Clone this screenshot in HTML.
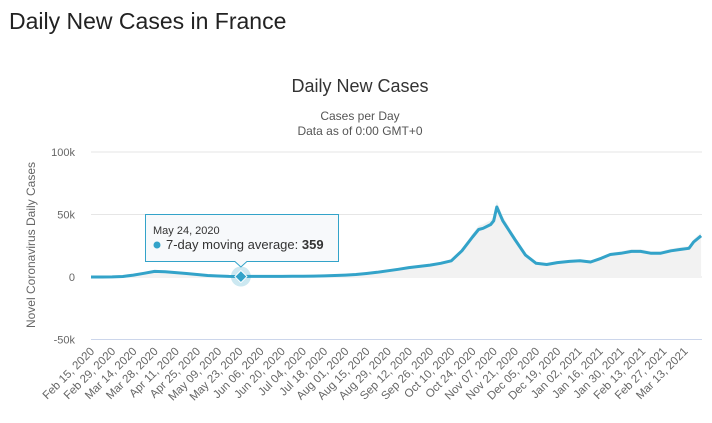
<!DOCTYPE html>
<html><head><meta charset="utf-8"><style>
body{margin:0;background:#fff;font-family:"Liberation Sans",sans-serif;}
#wrap{position:relative;width:712px;height:423px;overflow:hidden;}
h1{position:absolute;left:9px;top:8px;margin:0;font-weight:normal;font-size:23px;color:#222;}
</style></head><body>
<div id="wrap">
<h1>Daily New Cases in France</h1>
<svg id="chart" width="712" height="423" style="position:absolute;left:0;top:0"></svg>
</div>
<script>
const dayOffsets=[0,7,14,21,28,35,42,49,56,63,70,77,84,91,98,105,112,119,126,133,140,147,154,161,168,175,182,189,196,203,210,217,224,231,238,245,252,256,259,264,266,268,272,280,287,294,301,308,316,323,330,337,343,350,357,363,370,376,383,389,395,398,403];
const maValues=[0,0,100,400,1500,3000,4500,4200,3500,2800,2000,1200,800,500,400,450,450,450,500,550,600,700,900,1200,1500,2000,2800,3800,5000,6200,7500,8500,9500,11000,13000,21000,32000,38000,39000,42000,45000,56000,45000,30000,17500,11000,10000,11500,12500,13000,12000,15000,18000,19000,20500,20500,19000,19000,21000,22000,23000,28000,33000,31000];
const yTicks=[100000,50000,0,-50000];
const yTickLabels=["100k","50k","0","-50k"];
const xTickLabels=["Feb 15, 2020","Feb 29, 2020","Mar 14, 2020","Mar 28, 2020","Apr 11, 2020","Apr 25, 2020","May 09, 2020","May 23, 2020","Jun 06, 2020","Jun 20, 2020","Jul 04, 2020","Jul 18, 2020","Aug 01, 2020","Aug 15, 2020","Aug 29, 2020","Sep 12, 2020","Sep 26, 2020","Oct 10, 2020","Oct 24, 2020","Nov 07, 2020","Nov 21, 2020","Dec 05, 2020","Dec 19, 2020","Jan 02, 2021","Jan 16, 2021","Jan 30, 2021","Feb 13, 2021","Feb 27, 2021","Mar 13, 2021"];
const tooltipDay=99, tooltipValue=359;

const NS="http://www.w3.org/2000/svg";
const svg=document.getElementById('chart');
const X0=91,PXD=1.514,Y0=277,PXV=62.5/50000;
const xs=d=>X0+d*PXD, ys=v=>Y0-v*PXV;
function mk(t,a,p){const e=document.createElementNS(NS,t);for(const k in a)e.setAttribute(k,a[k]);(p||svg).appendChild(e);return e;}

let t=mk('text',{x:360,y:92,'text-anchor':'middle','font-size':18,fill:'#333'});t.textContent='Daily New Cases';


t=mk('text',{x:360,y:120,'text-anchor':'middle','font-size':12,fill:'#555'});t.textContent='Cases per Day';


t=mk('text',{x:360,y:135,'text-anchor':'middle','font-size':12,fill:'#555'});t.textContent='Data as of 0:00 GMT+0';


t=mk('text',{x:0,y:0,'text-anchor':'middle','font-size':12,fill:'#666',transform:'translate(35,245) rotate(-90)'});t.textContent='Novel Coronavirus Daily Cases';



yTicks.forEach((v,i)=>{
  const g=mk('line',{x1:X0,x2:702,y1:ys(v),y2:ys(v),stroke:i==yTicks.length-1?'#ccd6eb':'#e6e6e6','stroke-width':1});
  
  
  const l=mk('text',{x:75,y:ys(v)+4,'text-anchor':'end','font-size':11,fill:'#666'});l.textContent=yTickLabels[i];
  
  
});
xTickLabels.forEach((s,i)=>{
  const x=xs(i*14);
  const l=mk('text',{x:0,y:0,'text-anchor':'end','font-size':11.5,fill:'#666',transform:`translate(${x+4},${352}) rotate(-45)`});l.textContent=s;
  
  
});
let dA=`M${xs(dayOffsets[0])},${Y0}`;
dayOffsets.forEach((d,i)=>{dA+=`L${xs(d).toFixed(1)},${ys(maValues[i]*1.08).toFixed(1)}`;});
dA+=`L${xs(dayOffsets[dayOffsets.length-1])},${Y0}Z`;
const area=mk('path',{d:dA,fill:'#f2f2f2',stroke:'none'});


let dL='';
dayOffsets.forEach((d,i)=>{dL+=(i?'L':'M')+xs(d).toFixed(1)+','+ys(maValues[i]).toFixed(1);});
const line=mk('path',{d:dL,fill:'none',stroke:'#33a3c9','stroke-width':3,'stroke-linejoin':'round'});



const mx=xs(tooltipDay),my=ys(tooltipValue);
const halo=mk('circle',{cx:mx,cy:my,r:10,fill:'#33a3c9','fill-opacity':0.25});


const dm=mk('path',{d:`M${mx},${my-6}L${mx+6},${my}L${mx},${my+6}L${mx-6},${my}Z`,fill:'#33a3c9',stroke:'#fff','stroke-width':1});


const tg=mk('g',{});


mk('path',{d:`M145.5,214.5H338.5V261.5H${mx+6}L${mx},267L${mx-6},261.5H145.5Z`,fill:'#f7f9fb','fill-opacity':0.95,stroke:'#33a3c9','stroke-width':1},tg);
t=mk('text',{x:153,y:234,'font-size':11,fill:'#333'},tg);t.textContent='May 24, 2020';
mk('circle',{cx:157,cy:245,r:3.5,fill:'#33a3c9'},tg);
t=mk('text',{x:166,y:249,'font-size':13,fill:'#333'},tg);
t.innerHTML='7-day moving average: <tspan font-weight="bold">'+tooltipValue+'</tspan>';
</script>
</body></html>
